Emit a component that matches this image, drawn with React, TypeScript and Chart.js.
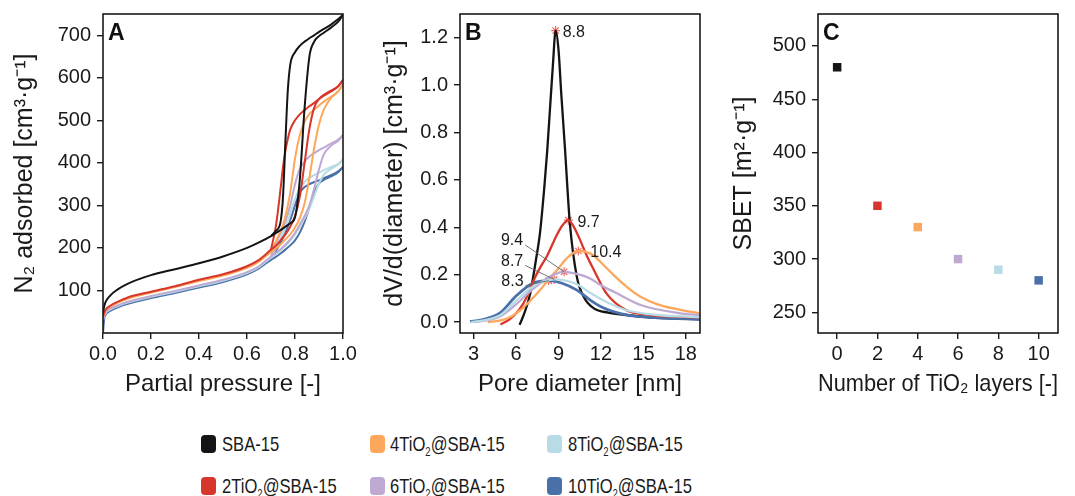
import React, { useEffect, useRef } from "react";
import { Chart, registerables } from "chart.js";

Chart.register(...registerables);

const FONT = "'Liberation Sans', Arial, Helvetica, sans-serif";
const INK = "#1a1a1a";

// ---------- series ----------
const seriesNames = ["SBA-15", "2TiO2@SBA-15", "4TiO2@SBA-15", "6TiO2@SBA-15", "8TiO2@SBA-15", "10TiO2@SBA-15"];
const seriesColors = ["#141414", "#d7372b", "#fca75c", "#bda9d2", "#b8dce6", "#4a70a9"];

// ---------- panel A : N2 isotherms ----------
const adsP = [0, 0.005, 0.01, 0.03, 0.06, 0.1, 0.2, 0.3, 0.4, 0.5, 0.6, 0.65, 0.7, 0.72, 0.74, 0.76, 0.78, 0.8, 0.82, 0.84, 0.86, 0.88, 0.9, 0.92, 0.95, 0.98, 1.0];
const desP = [0.7, 0.72, 0.74, 0.75, 0.76, 0.77, 0.78, 0.8, 0.82, 0.84, 0.86, 0.88, 0.9, 0.92, 0.95, 0.98, 1.0];

const adsSBA = [48, 62, 72, 88, 102, 115, 136, 150, 164, 180, 200, 213, 228, 235, 242, 250, 258, 272, 360, 530, 650, 685, 698, 706, 718, 732, 748];
const ads2Ti = [38, 48, 54, 64, 73, 83, 97, 110, 125, 138, 157, 172, 196, 205, 218, 232, 250, 275, 320, 400, 480, 530, 550, 560, 570, 580, 595];
const ads4Ti = [36, 46, 52, 62, 71, 80, 95, 108, 122, 135, 153, 168, 190, 198, 208, 220, 232, 248, 270, 305, 365, 435, 490, 525, 553, 568, 585];
const ads6Ti = [32, 42, 48, 57, 65, 73, 87, 99, 112, 125, 143, 157, 180, 188, 197, 208, 220, 235, 255, 275, 300, 340, 385, 420, 440, 452, 465];
const ads8Ti = [30, 40, 46, 55, 63, 71, 85, 97, 110, 123, 141, 155, 177, 185, 194, 205, 217, 232, 250, 270, 292, 322, 352, 372, 386, 396, 408];
const ads10Ti = [0, 33, 42, 52, 60, 68, 82, 94, 107, 120, 138, 152, 172, 179, 187, 196, 206, 218, 236, 262, 295, 330, 352, 360, 368, 378, 390];

const desSBA = [228, 240, 262, 320, 450, 570, 630, 660, 675, 685, 693, 700, 708, 715, 725, 738, 748];
const des2Ti = [196, 250, 340, 390, 428, 456, 478, 500, 514, 524, 533, 541, 550, 558, 568, 580, 595];
const des4Ti = [190, 215, 240, 255, 275, 300, 330, 410, 465, 497, 515, 525, 535, 544, 555, 568, 585];
const des6Ti = [180, 210, 235, 248, 262, 280, 300, 350, 385, 403, 415, 423, 430, 436, 445, 455, 465];
const des8Ti = [177, 200, 222, 235, 248, 262, 280, 315, 340, 355, 365, 371, 377, 383, 390, 398, 408];
const des10Ti = [172, 192, 212, 224, 236, 250, 265, 300, 330, 343, 350, 355, 359, 364, 371, 380, 390];

const adsSeries = [adsSBA, ads2Ti, ads4Ti, ads6Ti, ads8Ti, ads10Ti];
const desSeries = [desSBA, des2Ti, des4Ti, des6Ti, des8Ti, des10Ti];

const aXTicks = [0, 0.2, 0.4, 0.6, 0.8, 1.0];
const aYTicks = [100, 200, 300, 400, 500, 600, 700];

// ---------- panel B : pore size distribution ----------
const psdSBA_D = [6.25, 6.6, 7.0, 7.4, 7.7, 8.0, 8.2, 8.4, 8.6, 8.8, 9.0, 9.2, 9.45, 9.8, 10.3, 10.8, 11.5, 12.5, 13.8, 16, 19];
const psdSBA_V = [-0.012, 0.04, 0.12, 0.26, 0.38, 0.57, 0.72, 0.9, 1.08, 1.23, 1.15, 0.96, 0.74, 0.42, 0.19, 0.105, 0.058, 0.04, 0.03, 0.018, 0.012];
const psd2Ti_D = [4.9, 5.5, 6.2, 6.8, 7.2, 7.7, 8.2, 8.9, 9.3, 9.7, 10.1, 10.5, 11.0, 11.5, 12.4, 13.8, 15.5, 17.6, 19];
const psd2Ti_V = [-0.01, 0.01, 0.05, 0.11, 0.17, 0.23, 0.28, 0.37, 0.41, 0.43, 0.4, 0.35, 0.28, 0.22, 0.12, 0.05, 0.03, 0.022, 0.02];
const psd4Ti_D = [4.0, 5.0, 5.7, 6.3, 7.0, 7.7, 8.3, 8.9, 9.6, 10.4, 11.0, 11.5, 12.2, 12.9, 13.8, 14.8, 16, 17.6, 19];
const psd4Ti_V = [0.0, 0.008, 0.025, 0.05, 0.09, 0.135, 0.18, 0.22, 0.27, 0.3, 0.295, 0.28, 0.24, 0.198, 0.15, 0.107, 0.075, 0.052, 0.037];
const psd6Ti_D = [3.0, 4.0, 4.9, 6.0, 7.2, 8.5, 9.4, 10.5, 11.2, 12.0, 12.9, 14.8, 17.6, 19];
const psd6Ti_V = [0.0, 0.008, 0.025, 0.075, 0.14, 0.195, 0.212, 0.2, 0.185, 0.155, 0.128, 0.072, 0.037, 0.03];
const psd8Ti_D = [2.8, 3.8, 4.9, 6.0, 7.2, 8.0, 8.7, 9.5, 10.3, 11.2, 12.4, 13.8, 16, 19];
const psd8Ti_V = [0.0, 0.008, 0.03, 0.09, 0.15, 0.172, 0.18, 0.175, 0.16, 0.125, 0.085, 0.05, 0.03, 0.02];
const psd10Ti_D = [2.75, 3.5, 4.2, 4.9, 6.0, 7.2, 7.8, 8.3, 9.2, 10.3, 11.2, 12.0, 13.8, 16, 19];
const psd10Ti_V = [0.003, 0.008, 0.02, 0.04, 0.11, 0.165, 0.173, 0.175, 0.165, 0.135, 0.095, 0.065, 0.03, 0.018, 0.012];

const psdD = [psdSBA_D, psd2Ti_D, psd4Ti_D, psd6Ti_D, psd8Ti_D, psd10Ti_D];
const psdV = [psdSBA_V, psd2Ti_V, psd4Ti_V, psd6Ti_V, psd8Ti_V, psd10Ti_V];

const peakD = [8.8, 9.7, 10.4, 9.4, 8.7, 8.3];
const peakV = [1.23, 0.43, 0.3, 0.212, 0.18, 0.175];
const peakLabels = ["8.8", "9.7", "10.4", "9.4", "8.7", "8.3"];

const bXTicks = [3, 6, 9, 12, 15, 18];
const bYTicks = [0, 0.2, 0.4, 0.6, 0.8, 1.0, 1.2];

// ---------- panel C : BET surface ----------
const layers = [0, 2, 4, 6, 8, 10];
const sbet = [480, 350, 330, 300, 290, 280];
const cXTicks = [0, 2, 4, 6, 8, 10];
const cYTicks = [250, 300, 350, 400, 450, 500];

// ---------- helpers ----------
const pts = (xs: number[], ys: number[]) => xs.map((x, i) => ({ x, y: ys[i] }));

function axis(pos: "bottom" | "left", min: number, max: number, tickVals: number[], digits: number,
  title: string, size: number, titlePad: number) {
  const horiz = pos === "bottom";
  return {
    type: "linear",
    position: pos,
    min,
    max,
    afterBuildTicks: (s: any) => { s.ticks = tickVals.map((v) => ({ value: v })); },
    afterFit: (s: any) => {
      if (horiz) { s.height = size; s.paddingLeft = 0; s.paddingRight = 0; }
      else { s.width = size; s.paddingTop = 0; s.paddingBottom = 0; }
    },
    grid: { display: true, drawOnChartArea: false, drawTicks: true, tickLength: 6, color: INK, lineWidth: 1.4 },
    border: { display: false },
    ticks: {
      autoSkip: false, maxRotation: 0, minRotation: 0,
      padding: horiz ? 3 : 6,
      color: INK,
      font: { size: 20, family: FONT },
      callback: (v: any) => Number(v).toFixed(digits),
    },
    title: {
      display: true, text: title, color: INK,
      font: { size: horiz ? 24 : 25, family: FONT },
      padding: horiz ? { top: 0, bottom: titlePad } : { top: titlePad, bottom: 0 },
    },
  };
}

const boxPlugin = {
  id: "box",
  afterDraw(chart: any, _a: any, opts: any) {
    const { ctx, chartArea: a } = chart;
    ctx.save();
    ctx.strokeStyle = INK;
    ctx.lineWidth = 1.6;
    ctx.strokeRect(a.left, a.top, a.right - a.left, a.bottom - a.top);
    ctx.font = `bold 23px ${FONT}`;
    ctx.fillStyle = "#111";
    ctx.textAlign = "left";
    ctx.textBaseline = "alphabetic";
    ctx.fillText(opts.letter, a.left + 5, a.top + 26);
    ctx.restore();
  },
};

// label placement relative to each peak marker (pixels), with optional leader line
const peakLabelLayout = [
  { dx: 7, dy: 2, align: "left", leader: false },
  { dx: 9, dy: 2, align: "left", leader: false },
  { dx: 12, dy: 2, align: "left", leader: false },
  { dx: -41, dy: -31, align: "right", leader: true },
  { dx: -31, dy: -18, align: "right", leader: true },
  { dx: -25, dy: 1, align: "right", leader: true },
];

const peakLabelPlugin = {
  id: "peakLabels",
  afterDatasetsDraw(chart: any) {
    const { ctx, scales } = chart;
    ctx.save();
    ctx.font = `16px ${FONT}`;
    ctx.fillStyle = INK;
    ctx.textBaseline = "middle";
    peakD.forEach((d, i) => {
      const px = scales.x.getPixelForValue(d);
      const py = scales.y.getPixelForValue(peakV[i]);
      const L = peakLabelLayout[i];
      const tx = px + L.dx;
      const ty = py + L.dy;
      ctx.textAlign = L.align;
      ctx.fillText(peakLabels[i], tx, ty);
      if (L.leader) {
        ctx.strokeStyle = "#666";
        ctx.lineWidth = 0.9;
        ctx.beginPath();
        ctx.moveTo(tx + 2, ty + 4);
        ctx.lineTo(px, py);
        ctx.stroke();
      }
    });
    ctx.restore();
  },
};

const baseOptions = (padRight: number, letter: string) => ({
  responsive: false,
  animation: false,
  layout: { padding: { top: 14, right: padRight, left: 0, bottom: 0 } },
  plugins: { legend: { display: false }, tooltip: { enabled: false }, box: { letter } },
  elements: { point: { radius: 0 }, line: { borderWidth: 2, cubicInterpolationMode: "monotone" } },
});

function configA(): any {
  const datasets: any[] = [];
  seriesColors.forEach((c, i) => {
    datasets.push({ data: pts(adsP, adsSeries[i]), borderColor: c, showLine: true, pointRadius: 0, fill: false, borderWidth: 2 });
    datasets.push({ data: pts(desP, desSeries[i]), borderColor: c, showLine: true, pointRadius: 0, fill: false, borderWidth: 2 });
  });
  return {
    type: "scatter",
    data: { datasets },
    options: {
      ...baseOptions(21, "A"),
      scales: {
        x: axis("bottom", 0, 1.0, aXTicks, 1, "Partial pressure [-]", 67, 1.6),
        y: axis("left", 0, 750, aYTicks, 0, "N\u2082 adsorbed [cm\u00b3\u00b7g\u207b\u00b9]", 103, 10.5),
      },
    },
    plugins: [boxPlugin],
  };
}

function configB(): any {
  const order = [4, 3, 2, 1, 5, 0];
  const datasets: any[] = order.map((i) => ({
    data: pts(psdD[i], psdV[i]), borderColor: seriesColors[i], showLine: true, pointRadius: 0, fill: false,
    borderWidth: i === 5 ? 2.8 : 2.3,
  }));
  datasets.push({
    data: pts(peakD, peakV), showLine: false, pointStyle: "star", pointRadius: 4.5,
    pointBorderColor: "#f06a64", pointBorderWidth: 1.2, borderColor: "#f06a64",
  });
  return {
    type: "scatter",
    data: { datasets },
    options: {
      ...baseOptions(15, "B"),
      scales: {
        x: axis("bottom", 2.04, 19.0, bXTicks, 0, "Pore diameter [nm]", 67, 1.6),
        y: axis("left", -0.046, 1.3, bYTicks, 1, "dV/d(diameter) [cm\u00b3\u00b7g\u207b\u00b9]", 105, 24.7),
      },
    },
    plugins: [boxPlugin, peakLabelPlugin],
  };
}

function configC(): any {
  return {
    type: "scatter",
    data: {
      datasets: [{
        data: pts(layers, sbet), showLine: false, pointStyle: "rect", pointRadius: 6,
        pointBackgroundColor: seriesColors, pointBorderColor: seriesColors, pointBorderWidth: 0,
        backgroundColor: seriesColors,
      }],
    },
    options: {
      ...baseOptions(17, "C"),
      scales: {
        x: axis("bottom", -0.95, 10.96, cXTicks, 0, "Number of TiO\u2082 layers [-]", 67, 1.6),
        y: axis("left", 230.6, 530, cYTicks, 0, "SBET [m\u00b2\u00b7g\u207b\u00b9]", 103, 13.9),
      },
    },
    plugins: [boxPlugin],
  };
}

function Panel({ left, width, make }: { left: number; width: number; make: () => any }) {
  const ref = useRef<HTMLCanvasElement | null>(null);
  useEffect(() => {
    if (!ref.current) return;
    const chart = new Chart(ref.current, make());
    return () => chart.destroy();
  }, []);
  return <canvas ref={ref} width={width} height={400} style={{ position: "absolute", left, top: 0, width, height: 400 }} />;
}

function LegendLabel({ name }: { name: string }) {
  const parts = name.split("TiO2");
  return (
    <span style={{ display: "inline-block", transform: "scaleX(0.79)", transformOrigin: "left center", whiteSpace: "nowrap" }}>
      {parts.length === 1 ? name : (
        <>
          {parts[0]}TiO<sub style={{ fontSize: "12px", verticalAlign: "-5px", lineHeight: 0 }}>2</sub>{parts[1]}
        </>
      )}
    </span>
  );
}

const legendColLeft = [201, 370, 547];
const legendTextLeft = [222, 390, 568];
const legendRowCenter = [444, 486];

export default function App() {
  return (
    <div style={{ position: "absolute", left: 0, top: 0, width: 1075, height: 496, background: "#fff", overflow: "hidden", fontFamily: FONT }}>
      <Panel left={0} width={364} make={configA} />
      <Panel left={355} width={360} make={configB} />
      <Panel left={715} width={360} make={configC} />
      {seriesNames.map((n, i) => {
        const col = Math.floor(i / 2);
        const row = i % 2;
        const cy = legendRowCenter[row];
        return (
          <React.Fragment key={n}>
            <div style={{ position: "absolute", left: legendColLeft[col], top: cy - 9, width: 15, height: 18, borderRadius: 4, background: seriesColors[i] }} />
            <div style={{ position: "absolute", left: legendTextLeft[col], top: cy - 12, height: 24, lineHeight: "24px", fontSize: 21, color: INK }}>
              <LegendLabel name={n} />
            </div>
          </React.Fragment>
        );
      })}
    </div>
  );
}
